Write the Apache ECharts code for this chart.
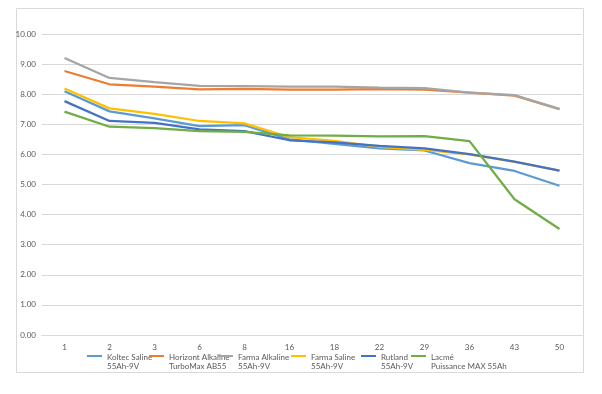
<!DOCTYPE html>
<html><head><meta charset="utf-8">
<script src="https://cdn.jsdelivr.net/npm/echarts@6/dist/echarts.min.js"></script>
<style>html,body{margin:0;padding:0;background:#fff}#c{width:602px;height:394px}</style>
</head><body><div id="c"></div>
<script>
const categories = ['1','2','3','6','8','16','18','22','29','36','43','50'];
const koltecSaline   = [8.10,7.43,7.20,6.94,6.97,6.50,6.35,6.20,6.13,5.71,5.45,4.96];
const horizontAlk    = [8.77,8.33,8.25,8.16,8.18,8.15,8.15,8.17,8.15,8.05,7.95,7.50];
const farmaAlkaline  = [9.20,8.54,8.40,8.28,8.27,8.25,8.25,8.22,8.20,8.05,7.97,7.51];
const farmaSaline    = [8.19,7.53,7.35,7.11,7.03,6.57,6.45,6.25,6.15,6.00,5.75,5.46];
const rutland        = [7.77,7.11,7.05,6.83,6.77,6.47,6.40,6.28,6.20,6.01,5.76,5.46];
const lacme          = [7.42,6.92,6.87,6.77,6.75,6.63,6.62,6.60,6.61,6.44,4.51,3.52];
const seriesNames = ['Koltec Saline\n55Ah-9V','Horizont Alkaline\nTurboMax AB55','Farma Alkaline\n55Ah-9V','Farma Saline\n55Ah-9V','Rutland\n55Ah-9V','Lacmé\nPuissance MAX 55Ah'];
const seriesData = [koltecSaline,horizontAlk,farmaAlkaline,farmaSaline,rutland,lacme];
const colors = ['#5B9BD5','#ED7D31','#A5A5A5','#FFC000','#4472C4','#70AD47'];
const legendLefts = [87,149,218,291,361,411];

const font = 'Lato';
const chart = echarts.init(document.getElementById('c'));
chart.setOption({
  animation:false,
  backgroundColor:'#fff',
  color:colors,
  grid:{left:42,right:20,top:34,bottom:59,containLabel:false},
  graphic:[{type:'rect',shape:{x:16.5,y:8.5,width:567,height:364},style:{fill:'none',stroke:'#d9d9d9',lineWidth:1},silent:true}],
  xAxis:{type:'category',data:categories,boundaryGap:true,
    axisLine:{show:true,lineStyle:{color:'#d9d9d9'}},axisTick:{show:false},
    axisLabel:{color:'#595959',fontSize:8,fontFamily:font,margin:8}},
  yAxis:{type:'value',min:0,max:10,interval:1,
    axisLine:{show:false},axisTick:{show:false},
    splitLine:{lineStyle:{color:'#d9d9d9',width:1}},
    axisLabel:{color:'#595959',fontSize:8,fontFamily:font,margin:6,formatter:v=>v.toFixed(2)}},
  legend: seriesNames.map((n,i)=>({
    data:[n],left:legendLefts[i],top:353,padding:0,itemWidth:15,itemHeight:2,
    icon:'rect',selectedMode:false,
    formatter:name=>{const p=name.split('\n');return '{a|'+p[0]+'}\n{b|'+p[1]+'}';},
    textStyle:{color:'#595959',fontSize:8,fontFamily:font,
      rich:{a:{color:'#595959',fontSize:8,fontFamily:font,lineHeight:20,verticalAlign:'bottom'},
            b:{color:'#595959',fontSize:8,fontFamily:font,lineHeight:10}}}
  })),
  series: seriesData.map((d,i)=>({
    name:seriesNames[i],type:'line',data:d,showSymbol:false,symbol:'none',
    lineStyle:{width:2.25,color:colors[i]},itemStyle:{color:colors[i]}
  }))
});
</script></body></html>
